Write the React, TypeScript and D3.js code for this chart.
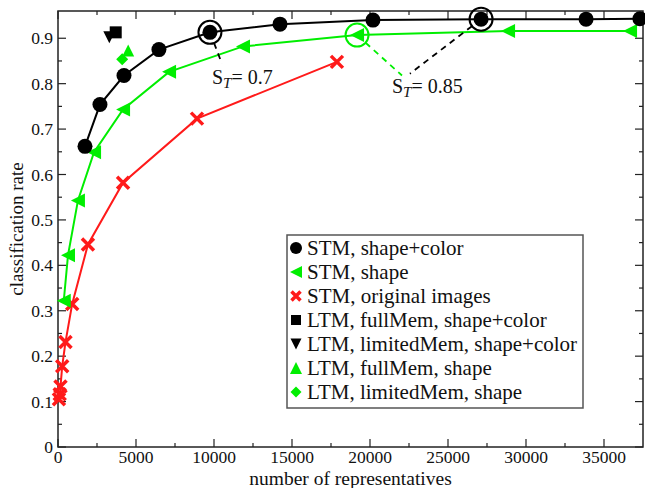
import { useEffect, useRef } from "react";
import * as d3 from "d3";

// STM, shape+color (black circles)
const stmColorX = [1730, 2690, 4230, 6470, 9740, 14230, 20190, 27120, 33850, 37300];
const stmColorY = [0.662, 0.754, 0.818, 0.875, 0.913, 0.931, 0.94, 0.942, 0.942, 0.943];

// STM, shape (green left triangles)
const stmShapeX = [370, 640, 1280, 2310, 4170, 7120, 11860, 19170, 28850, 36670];
const stmShapeY = [0.322, 0.422, 0.543, 0.649, 0.743, 0.826, 0.882, 0.907, 0.916, 0.916];

// STM, original images (red crosses)
const stmOrigX = [60, 110, 160, 270, 480, 910, 1920, 4170, 8910, 17880];
const stmOrigY = [0.105, 0.116, 0.133, 0.178, 0.231, 0.315, 0.446, 0.582, 0.723, 0.848];

// LTM single points
const ltmLabels = [
  "LTM, fullMem, shape+color",
  "LTM, limitedMem, shape+color",
  "LTM, fullMem, shape",
  "LTM, limitedMem, shape",
];
const ltmX = [3700, 3290, 4500, 4115];
const ltmY = [0.913, 0.902, 0.873, 0.854];

const xTicks = [0, 5000, 10000, 15000, 20000, 25000, 30000, 35000];
const yTicks = [0, 0.1, 0.2, 0.3, 0.4, 0.5, 0.6, 0.7, 0.8, 0.9];

const GREEN = "#00ee00";
const RED = "#ff1a1a";
const FONT = "'Liberation Serif', 'Times New Roman', serif";

export default function App() {
  const svgRef = useRef<SVGSVGElement>(null);

  useEffect(() => {
    if (!svgRef.current) return;
    const svg = d3.select(svgRef.current);
    svg.selectAll("*").remove();

    const left = 58, right = 643, top = 11, bottom = 447;
    const x = d3.scaleLinear().domain([0, 37500]).range([left, right]);
    const y = d3.scaleLinear().domain([0, 0.96]).range([bottom, top]);

    // frame
    svg.append("rect")
      .attr("x", left).attr("y", top)
      .attr("width", right - left).attr("height", bottom - top)
      .attr("fill", "none").attr("stroke", "#222").attr("stroke-width", 1.5);

    const ticks = svg.append("g").attr("stroke", "#222").attr("stroke-width", 1.2);
    d3.range(0, 37500, 2500).forEach((v) => {
      const len = v % 5000 === 0 ? 8 : 4;
      ticks.append("line").attr("x1", x(v)).attr("x2", x(v)).attr("y1", bottom).attr("y2", bottom - len);
      ticks.append("line").attr("x1", x(v)).attr("x2", x(v)).attr("y1", top).attr("y2", top + len);
    });
    d3.range(0, 19).forEach((i) => {
      const v = i * 0.05;
      const len = i % 2 === 0 ? 8 : 4;
      ticks.append("line").attr("y1", y(v)).attr("y2", y(v)).attr("x1", left).attr("x2", left + len);
      ticks.append("line").attr("y1", y(v)).attr("y2", y(v)).attr("x1", right).attr("x2", right - len);
    });

    const txt = svg.append("g").style("font-family", FONT).attr("fill", "#111");
    xTicks.forEach((v) => {
      txt.append("text").attr("x", x(v)).attr("y", bottom + 15.5)
        .attr("text-anchor", "middle").style("font-size", "17.5px").text(String(v));
    });
    yTicks.forEach((v) => {
      txt.append("text").attr("x", left - 5).attr("y", y(v) + 6)
        .attr("text-anchor", "end").style("font-size", "17.5px").text(v === 0 ? "0" : v.toFixed(1));
    });
    txt.append("text").attr("x", (left + right) / 2).attr("y", 484.5)
      .attr("text-anchor", "middle").style("font-size", "19.5px").text("number of representatives");
    txt.append("text")
      .attr("transform", `translate(23,${(top + bottom) / 2}) rotate(-90)`)
      .attr("text-anchor", "middle").style("font-size", "19px").text("classification rate");

    // marker shapes
    const sym = (g: any, kind: string, cx: number, cy: number, color: string, s: number) => {
      if (kind === "circle") {
        g.append("circle").attr("cx", cx).attr("cy", cy).attr("r", s).attr("fill", color);
      } else if (kind === "left") {
        g.append("path").attr("d", `M${cx - s},${cy}L${cx + s},${cy - s}L${cx + s},${cy + s}Z`).attr("fill", color);
      } else if (kind === "cross") {
        g.append("path").attr("d", `M${cx - s},${cy - s}L${cx + s},${cy + s}M${cx - s},${cy + s}L${cx + s},${cy - s}`)
          .attr("stroke", color).attr("stroke-width", 3.5).attr("fill", "none");
      } else if (kind === "square") {
        g.append("rect").attr("x", cx - s).attr("y", cy - s).attr("width", 2 * s).attr("height", 2 * s).attr("fill", color);
      } else if (kind === "down") {
        g.append("path").attr("d", `M${cx},${cy + s}L${cx - s},${cy - s}L${cx + s},${cy - s}Z`).attr("fill", color);
      } else if (kind === "up") {
        g.append("path").attr("d", `M${cx},${cy - s}L${cx - s},${cy + s}L${cx + s},${cy + s}Z`).attr("fill", color);
      } else if (kind === "diamond") {
        g.append("path").attr("d", `M${cx},${cy - s}L${cx + s},${cy}L${cx},${cy + s}L${cx - s},${cy}Z`).attr("fill", color);
      }
    };

    const series = [
      { xs: stmOrigX, ys: stmOrigY, color: RED, kind: "cross", size: 6 },
      { xs: stmShapeX, ys: stmShapeY, color: GREEN, kind: "left", size: 7 },
      { xs: stmColorX, ys: stmColorY, color: "#000", kind: "circle", size: 7.5 },
    ];
    const line = d3.line<[number, number]>().x((d) => x(d[0])).y((d) => y(d[1]));
    const plot = svg.append("g");
    series.forEach((s) => {
      const pts = s.xs.map((v, i) => [v, s.ys[i]] as [number, number]);
      plot.append("path").attr("d", line(pts)).attr("fill", "none")
        .attr("stroke", s.color).attr("stroke-width", 2);
    });
    series.forEach((s) => {
      s.xs.forEach((v, i) => sym(plot, s.kind, x(v), y(s.ys[i]), s.color, s.size));
    });

    const ltmKinds = ["square", "down", "up", "diamond"];
    const ltmColors = ["#000", "#000", GREEN, GREEN];
    ltmX.forEach((v, i) => sym(plot, ltmKinds[i], x(v), y(ltmY[i]), ltmColors[i], 6));

    // annotations: threshold rings and dashed leaders
    const rings = [
      { cx: stmColorX[4], cy: stmColorY[4], color: "#000", tx: 10510, ty: 0.844 },
      { cx: stmColorX[7], cy: stmColorY[7], color: "#000", tx: 22560, ty: 0.822 },
      { cx: stmShapeX[7], cy: stmShapeY[7], color: GREEN, tx: 22050, ty: 0.818 },
    ];
    rings.forEach((r) => {
      const px = x(r.cx), py = y(r.cy), qx = x(r.tx), qy = y(r.ty);
      const ang = Math.atan2(qy - py, qx - px);
      plot.append("circle").attr("cx", px).attr("cy", py).attr("r", 11.5)
        .attr("fill", "none").attr("stroke", r.color).attr("stroke-width", 2);
      plot.append("line")
        .attr("x1", px + 11.5 * Math.cos(ang)).attr("y1", py + 11.5 * Math.sin(ang))
        .attr("x2", qx).attr("y2", qy)
        .attr("stroke", r.color).attr("stroke-width", 1.8).attr("stroke-dasharray", "6,5");
    });

    const labels = [
      { lx: 9870, ly: 0.8, val: "0.7" },
      { lx: 21410, ly: 0.78, val: "0.85" },
    ];
    labels.forEach((l) => {
      const t = txt.append("text").attr("x", x(l.lx)).attr("y", y(l.ly)).style("font-size", "20px");
      t.append("tspan").text("S");
      t.append("tspan").style("font-style", "italic").style("font-size", "15px").attr("dy", 4).text("T");
      t.append("tspan").attr("dy", -4).text("= " + l.val);
    });

    // legend
    const lg = svg.append("g");
    lg.append("rect").attr("x", 287).attr("y", 235).attr("width", 296).attr("height", 173)
      .attr("fill", "#fff").attr("stroke", "#555").attr("stroke-width", 1.5);
    const legendItems = [
      { label: "STM, shape+color", kind: "circle", color: "#000", s: 6 },
      { label: "STM, shape", kind: "left", color: GREEN, s: 6 },
      { label: "STM, original images", kind: "cross", color: RED, s: 4.5 },
      { label: ltmLabels[0], kind: "square", color: "#000", s: 5 },
      { label: ltmLabels[1], kind: "down", color: "#000", s: 5.5 },
      { label: ltmLabels[2], kind: "up", color: GREEN, s: 6 },
      { label: ltmLabels[3], kind: "diamond", color: GREEN, s: 5.5 },
    ];
    legendItems.forEach((it, i) => {
      const cy = 248 + i * 24;
      sym(lg, it.kind, 296, cy, it.color, it.s);
      lg.append("text").attr("x", 307).attr("y", cy + 7).style("font-family", FONT)
        .style("font-size", "21px").attr("fill", "#111").text(it.label);
    });
  }, []);

  return (
    <div style={{ position: "absolute", left: 0, top: 0 }}>
      <svg ref={svgRef} width={645} height={488} style={{ display: "block", background: "#fff" }} />
    </div>
  );
}
